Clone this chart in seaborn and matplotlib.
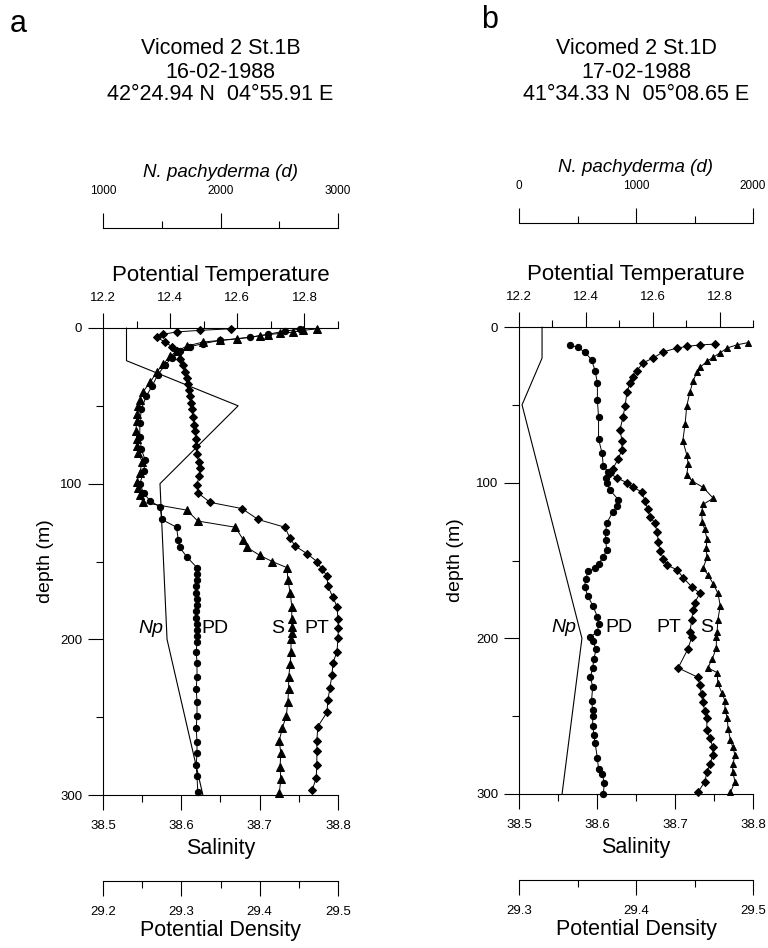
import matplotlib
matplotlib.use("Agg")
import matplotlib.pyplot as plt
import matplotlib.transforms as mtransforms
from matplotlib.ticker import FixedLocator
import seaborn as sns

# ---------------- panel a : Vicomed 2 St.1B ----------------
np_depth_a = [0, 21, 50, 100, 200, 300]
np_a = [1200, 1200, 2150, 1485, 1545, 1850]

pt_depth_a = [0.5, 1.5, 2.5, 4, 6, 9, 12, 15, 20, 24, 28, 32, 36, 40, 44, 48, 52, 57, 62, 66,
              71, 76, 81, 86, 90, 95, 101, 106, 112, 116, 123, 128, 135, 140, 145, 150, 155, 159,
              166, 173, 179, 187, 193, 199, 208, 215, 223, 231, 239, 247, 256, 265, 272, 281,
              289, 297]
pt_a = [12.58, 12.49, 12.42, 12.38, 12.36, 12.385, 12.405, 12.42, 12.43, 12.437, 12.444, 12.449,
        12.453, 12.456, 12.459, 12.462, 12.465, 12.468, 12.471, 12.474, 12.477, 12.478, 12.480,
        12.485, 12.489, 12.486, 12.480, 12.483, 12.519, 12.614, 12.662, 12.742, 12.757, 12.772,
        12.808, 12.837, 12.852, 12.867, 12.870, 12.885, 12.897, 12.900, 12.901, 12.900, 12.897,
        12.885, 12.882, 12.876, 12.870, 12.867, 12.840, 12.837, 12.837, 12.837, 12.835, 12.823]

s_depth_a = [0.6, 1.5, 2.6, 3.5, 4.2, 5, 7, 8, 9, 11.6, 15, 18, 23, 28, 35, 41, 46, 50, 55, 60,
             66, 71, 76, 80, 86, 93, 99, 103, 107, 112, 117, 124, 128, 136, 141, 146, 150, 154,
             162, 170, 179, 187, 192, 196, 200, 208, 216, 224, 232, 240, 249, 257, 265, 273,
             282, 290, 299]
s_a = [38.773, 38.755, 38.743, 38.726, 38.711, 38.700, 38.671, 38.649, 38.628, 38.607, 38.594,
       38.586, 38.577, 38.569, 38.560, 38.551, 38.547, 38.545, 38.544, 38.543, 38.542, 38.543,
       38.544, 38.545, 38.550, 38.547, 38.543, 38.545, 38.547, 38.551, 38.607, 38.621, 38.669,
       38.679, 38.684, 38.700, 38.716, 38.735, 38.736, 38.739, 38.741, 38.741, 38.741, 38.741,
       38.740, 38.740, 38.739, 38.737, 38.737, 38.736, 38.734, 38.729, 38.725, 38.727, 38.726,
       38.727, 38.725]

pd_depth_a = [0.8, 2, 4, 6, 8, 10, 12, 15, 19, 24, 30, 37, 44, 52, 61, 70, 78, 85, 92, 100,
              106, 111, 115, 123, 128, 136, 141, 147, 154, 158, 162, 166, 170, 174, 178, 182,
              186, 190, 194, 198, 202, 208, 215, 224, 232, 240, 249, 257, 266, 273, 281, 288, 298]
pd_a = [29.451, 29.432, 29.411, 29.388, 29.349, 29.328, 29.311, 29.298, 29.288, 29.279, 29.270,
        29.263, 29.255, 29.249, 29.247, 29.247, 29.249, 29.254, 29.252, 29.247, 29.252, 29.260,
        29.273, 29.275, 29.294, 29.296, 29.298, 29.307, 29.320, 29.320, 29.320, 29.319, 29.319,
        29.320, 29.320, 29.319, 29.319, 29.320, 29.320, 29.320, 29.320, 29.319, 29.320, 29.320,
        29.319, 29.320, 29.320, 29.319, 29.320, 29.320, 29.319, 29.320, 29.321]

# ---------------- panel b : Vicomed 2 St.1D ----------------
np_depth_b = [0, 20, 50, 200, 300]
np_b = [197, 197, 26, 538, 368]

pt_depth_b = [11, 11.5, 12.5, 13.5, 16, 20, 23, 28, 32, 36, 42, 51, 58, 66, 73, 79, 85, 91, 94,
              97, 100, 103, 106, 112, 117, 122, 126, 132, 138, 144, 149, 153, 156, 161, 167, 171,
              177, 182, 188, 196, 199, 207, 219, 225, 230, 236, 241, 247, 251, 259, 264, 270,
              275, 281, 286, 292, 299]
pt_b = [12.786, 12.741, 12.702, 12.673, 12.631, 12.601, 12.571, 12.553, 12.541, 12.532, 12.523,
        12.517, 12.511, 12.502, 12.508, 12.508, 12.496, 12.481, 12.472, 12.493, 12.523, 12.541,
        12.568, 12.577, 12.585, 12.592, 12.607, 12.613, 12.617, 12.622, 12.632, 12.643, 12.673,
        12.691, 12.717, 12.741, 12.726, 12.720, 12.717, 12.711, 12.717, 12.705, 12.676, 12.735,
        12.741, 12.746, 12.750, 12.756, 12.762, 12.762, 12.771, 12.780, 12.780, 12.771, 12.762,
        12.756, 12.735]

s_depth_b = [10, 11.5, 13.5, 16.5, 19.5, 22, 26, 29, 35, 42, 51, 62, 73, 82, 88, 95, 99, 103,
             110, 114, 119, 125, 130, 136, 142, 148, 155, 159, 165, 171, 179, 188, 196, 199, 206,
             213, 219, 222, 229, 235, 240, 246, 251, 258, 265, 270, 275, 281, 286, 292, 299]
s_b = [38.794, 38.779, 38.767, 38.758, 38.749, 38.741, 38.732, 38.728, 38.723, 38.719, 38.715,
       38.713, 38.710, 38.715, 38.717, 38.715, 38.722, 38.736, 38.749, 38.736, 38.734, 38.735,
       38.738, 38.741, 38.740, 38.741, 38.736, 38.742, 38.749, 38.755, 38.758, 38.755, 38.754,
       38.753, 38.753, 38.748, 38.742, 38.754, 38.755, 38.760, 38.764, 38.764, 38.767, 38.768,
       38.771, 38.774, 38.777, 38.774, 38.774, 38.777, 38.771]

pd_depth_b = [11.6, 13, 16, 21, 28, 36, 47, 58, 72, 81, 89, 93, 97, 100, 105, 111, 115, 119, 126,
              132, 137, 143, 148, 152, 155, 157, 162, 167, 173, 179, 186, 191, 196, 199, 202, 207,
              213, 219, 225, 231, 240, 246, 250, 256, 262, 267, 277, 284, 287, 293, 300]
pd_b = [29.344, 29.350, 29.356, 29.362, 29.365, 29.367, 29.367, 29.368, 29.368, 29.371, 29.372,
        29.376, 29.374, 29.375, 29.378, 29.385, 29.384, 29.380, 29.375, 29.374, 29.374, 29.375,
        29.372, 29.368, 29.365, 29.359, 29.357, 29.356, 29.359, 29.363, 29.367, 29.368, 29.367,
        29.361, 29.363, 29.366, 29.364, 29.363, 29.361, 29.363, 29.362, 29.363, 29.363, 29.363,
        29.364, 29.365, 29.367, 29.368, 29.371, 29.373, 29.372]

# axis scales
pt_ticks = [12.2, 12.4, 12.6, 12.8]
pt_minor = [12.3, 12.5, 12.7, 12.9]
s_ticks = [38.5, 38.6, 38.7, 38.8]
s_minor = [38.55, 38.65, 38.75]
depth_ticks = [0, 100, 200, 300]
depth_minor = [50, 150, 250]

np_ticks_a = [1000, 2000, 3000]
np_minor_a = [1500, 2500]
pd_ticks_a = [29.2, 29.3, 29.4, 29.5]
pd_minor_a = [29.25, 29.35, 29.45]

np_ticks_b = [0, 1000, 2000]
np_minor_b = [500, 1500]
pd_ticks_b = [29.3, 29.4, 29.5]
pd_minor_b = [29.35, 29.45]

curve_names_a = ["Np", "PD", "S", "PT"]
curve_names_b = ["Np", "PD", "PT", "S"]

sns.set_style("ticks")
plt.rcParams["font.family"] = ["Liberation Sans", "DejaVu Sans"]
plt.rcParams["axes.edgecolor"] = "black"
plt.rcParams["axes.labelcolor"] = "black"
plt.rcParams["text.color"] = "black"
plt.rcParams["xtick.color"] = "black"
plt.rcParams["ytick.color"] = "black"
plt.rcParams["axes.linewidth"] = 0.8

W, H = 768, 948
fig = plt.figure(figsize=(W / 100, H / 100), dpi=100)


def set_ticks(axis, major, minor, fmt="{:g}"):
    axis.set_major_locator(FixedLocator(major))
    axis.set_minor_locator(FixedLocator(minor))
    axis.set_ticklabels([fmt.format(v) for v in major])


def panel(left, bottom, right, top, letter, title, np_d, np_v, pt_d, pt_v, s_d, s_v, pd_d, pd_v,
          np_lim, np_ticks, np_minor, pd_lim, pd_ticks, pd_minor, names, labels_x, ms,
          np_out, pd_out):
    ax = fig.add_axes([left / W, 1 - bottom / H, (right - left) / W, (bottom - top) / H])
    ax_t = ax.twiny()
    ax_n = ax.twiny()
    ax_d = ax.twiny()
    for a in (ax_t, ax_n, ax_d):
        for sp in a.spines.values():
            sp.set_visible(False)
    ax.spines["top"].set_visible(False)
    ax.spines["right"].set_visible(False)
    ax_t.spines["top"].set_visible(True)
    ax_n.spines["top"].set_visible(True)
    ax_n.spines["top"].set_position(("outward", np_out))
    ax_d.xaxis.tick_bottom()
    ax_d.xaxis.set_label_position("bottom")
    ax_d.spines["bottom"].set_visible(True)
    ax_d.spines["bottom"].set_position(("outward", pd_out))

    line = dict(sort=False, estimator=None, color="black", clip_on=False,
                markeredgecolor="black", markerfacecolor="black")
    sns.lineplot(x=np_v, y=np_d, ax=ax_n, sort=False, estimator=None, color="black",
                 linewidth=0.8, clip_on=False)
    sns.lineplot(x=pd_v, y=pd_d, ax=ax_d, marker="o", markersize=ms[0], linewidth=0.7, **line)
    sns.lineplot(x=s_v, y=s_d, ax=ax, marker="^", markersize=ms[1], linewidth=0.7, **line)
    sns.lineplot(x=pt_v, y=pt_d, ax=ax_t, marker="D", markersize=ms[2], linewidth=0.7, **line)

    ax.set_xlim(38.5, 38.8)
    ax_t.set_xlim(12.2, 12.9)
    ax_n.set_xlim(*np_lim)
    ax_d.set_xlim(*pd_lim)
    ax.set_ylim(300, 0)

    set_ticks(ax.xaxis, s_ticks, s_minor)
    set_ticks(ax.yaxis, depth_ticks, depth_minor)
    set_ticks(ax_t.xaxis, pt_ticks, pt_minor)
    set_ticks(ax_n.xaxis, np_ticks, np_minor)
    set_ticks(ax_d.xaxis, pd_ticks, pd_minor)

    for a, pad, size in ((ax, 7, 9.5), (ax_t, 6, 9.5), (ax_n, 11, 8.5), (ax_d, 7, 9.5)):
        a.tick_params(axis="x", which="major", length=11, width=0.8, pad=pad, labelsize=size)
        a.tick_params(axis="x", which="minor", length=5, width=0.8)
    ax.tick_params(axis="y", which="major", length=11, width=0.8, pad=4, labelsize=9.5)
    ax.tick_params(axis="y", which="minor", length=5, width=0.8)

    ax.set_xlabel("Salinity", fontsize=15.5, labelpad=4)
    ax_d.set_xlabel("Potential Density", fontsize=15.5, labelpad=1)
    ax_t.set_xlabel("Potential Temperature", fontsize=16, labelpad=8)
    ax_n.set_xlabel("N. pachyderma (d)", fontsize=13.5, style="italic", labelpad=6)
    ax.set_ylabel("depth (m)", fontsize=14)
    ax.yaxis.set_label_coords(labels_x[4], 0.5)

    tr = mtransforms.blended_transform_factory(ax.transAxes, ax.transData)
    for txt, xf in zip(names, labels_x[:4]):
        ax.text(xf, 193, txt, transform=tr, fontsize=14,
                style="italic" if txt == "Np" else "normal", ha="center", va="center")

    cx = (left + right) / 2 / W
    fig.text(letter[1] / W, 1 - letter[2] / H, letter[0], fontsize=22, ha="center", va="center")
    for i, line_txt in enumerate(title):
        fig.text(cx, 1 - (49 + 23 * i) / H, line_txt, fontsize=15.5, ha="center", va="center")


panel(103, 795, 338, 328, ("a", 18, 24),
      ["Vicomed 2 St.1B", "16-02-1988", "42°24.94 N  04°55.91 E"],
      np_depth_a, np_a, pt_depth_a, pt_a, s_depth_a, s_a, pd_depth_a, pd_a,
      (1000, 3000), np_ticks_a, np_minor_a, (29.2, 29.5), pd_ticks_a, pd_minor_a,
      curve_names_a, [0.204, 0.477, 0.745, 0.911, -0.21], (4.5, 5.5, 4.5), 72, 62)

panel(519, 794, 753, 327, ("b", 490, 20),
      ["Vicomed 2 St.1D", "17-02-1988", "41°34.33 N  05°08.65 E"],
      np_depth_b, np_b, pt_depth_b, pt_b, s_depth_b, s_b, pd_depth_b, pd_b,
      (0, 2000), np_ticks_b, np_minor_b, (29.3, 29.5), pd_ticks_b, pd_minor_b,
      curve_names_b, [0.192, 0.427, 0.641, 0.803, -0.235], (4.5, 5, 4.5), 75, 62)

fig.savefig("out.png", dpi=100)
